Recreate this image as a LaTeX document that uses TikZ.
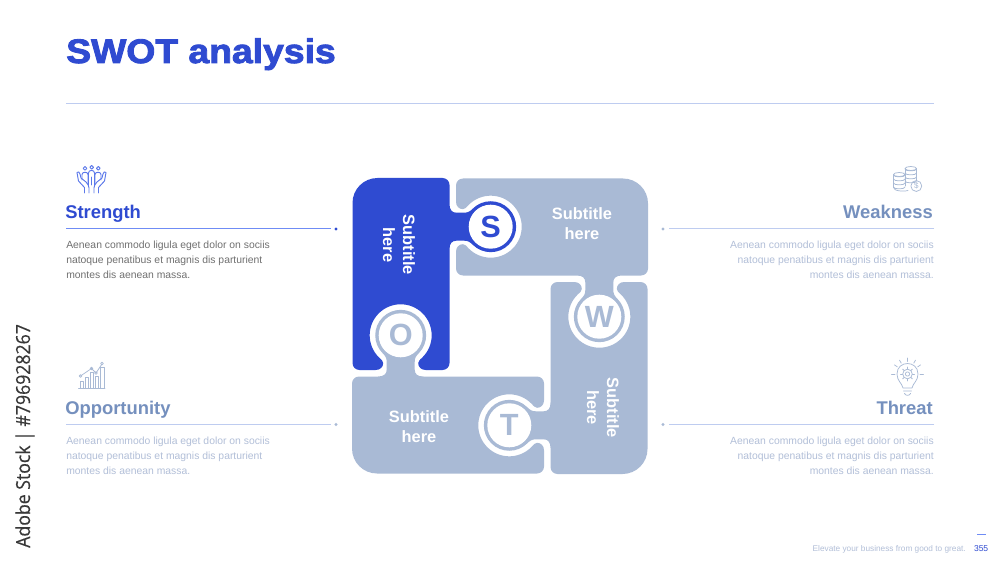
\documentclass[tikz,border=0pt]{standalone}
\usepackage{fontspec}
\setmainfont{Liberation Sans}
\newfontfamily\titlef[FakeBold=2.6,FakeStretch=1.097]{Liberation Sans Bold}
\newfontfamily\stockf[FakeBold=0.4,FakeStretch=0.914]{Open Sans}
\definecolor{swblue}{HTML}{2F4BD1}
\definecolor{swgray}{HTML}{A9BAD5}
\definecolor{swhead}{HTML}{7590BE}
\definecolor{swbody}{HTML}{B2BFD8}
\definecolor{swdark}{HTML}{707070}
\definecolor{swline}{HTML}{BECCF0}
\definecolor{swblueline}{HTML}{6F8CF5}
\newcommand{\piecepath}{
  (-122.5,148) -- (-57.5,148) arc[start angle=90,end angle=0,radius=5.25pt]
  -- (-50.5,122) .. controls (-50.5,116) and (-48,113.3) .. (-43.5,113.3)
  -- (-36,113.3) .. controls (-32,113.3) and (-30,114.6) .. (-27.3,117.3)
  arc[start angle=135,end angle=-135,radius=19.09pt]
  .. controls (-30,84) and (-32,85.3) .. (-36,85.3)
  -- (-43.5,85.3) .. controls (-48,85.3) and (-50.5,82.6) .. (-50.5,76.6)
  -- (-50.5,-37) arc[start angle=0,end angle=-90,radius=5.25pt]
  -- (-74.3,-44) .. controls (-78.8,-44) and (-81.8,-41) .. (-81.8,-37)
  .. controls (-81.8,-35) and (-80,-33.8) .. (-77.4,-31.2)
  arc[start angle=-45,end angle=225,radius=23.25pt]
  .. controls (-118.6,-33.8) and (-116.8,-35) .. (-116.8,-37)
  .. controls (-116.8,-41) and (-119.8,-44) .. (-124.3,-44)
  -- (-140.5,-44) arc[start angle=270,end angle=180,radius=5.25pt]
  -- (-147.5,123) arc[start angle=180,end angle=90,radius=18.75pt] -- cycle}
\tikzset{
  subt/.style={font=\bfseries\fontsize{12.3}{15}\selectfont,text=white,align=center,inner sep=0pt},
  letter/.style={font=\bfseries\fontsize{23}{23}\selectfont,inner sep=0pt},
  disc/.style={circle,fill=white,minimum size=33pt,inner sep=0pt},
  heads/.style={font=\bfseries\fontsize{13.8}{16}\selectfont,inner sep=0pt},
  bodyl/.style={font=\fontsize{7.78}{11.25}\selectfont,inner sep=0pt,align=left,anchor=north west},
  bodyr/.style={font=\fontsize{7.78}{11.25}\selectfont,inner sep=0pt,align=right,anchor=north east},
  dotn/.style={circle,inner sep=0pt,minimum size=2.6pt},
  ico/.style={line width=0.55pt,line cap=round,line join=round},
  rulel/.style={line width=0.6pt},
}
\begin{document}
\begin{tikzpicture}[x=0.75pt,y=-0.75pt]
\useasboundingbox (0,0) rectangle (1000,563);
\fill[white] (0,0) rectangle (1000,563);
% title
\node[anchor=base west,inner sep=0pt,text=swblue,font=\titlef\fontsize{25.5}{30}\selectfont] (title) at (66,63) {SWOT analysis};
\coordinate (tl) at (66,103.5); \coordinate (tr) at (934,103.5);
\draw[swline,rulel] (tl) -- (tr);
% pieces
\begin{scope}[shift={(500,326)},y=0.75pt]
  \fill[swblue] \piecepath;
  \begin{scope}[rotate=-90]\fill[swgray] \piecepath;\end{scope}
  \begin{scope}[rotate=-180]\fill[swgray] \piecepath;\end{scope}
  \begin{scope}[rotate=-270]\fill[swgray] \piecepath;\end{scope}
\end{scope}
\node[disc] (ds) at (490.7,226.7) {}; \node[letter,text=swblue] (ls) at (ds) {S};
\node[disc] (dw) at (599.3,316.7) {}; \node[letter,text=swgray] (lw) at (dw) {W};
\node[disc] (dt) at (509.3,425.3) {}; \node[letter,text=swgray] (lt) at (dt) {T};
\node[disc] (do) at (400.7,335.3) {}; \node[letter,text=swgray] (lo) at (do) {O};
\node[subt,rotate=-90] (st1) at (399,245) {Subtitle\\here};
\node[subt] (st2) at (582,224) {Subtitle\\here};
\node[subt,rotate=-90] (st3) at (603,407.7) {Subtitle\\here};
\node[subt] (st4) at (419,427) {Subtitle\\here};
% Strength
\node[heads,anchor=base west,text=swblue] (h1) at (65,218.5) {Strength};
\node[dotn,fill=swblue] (d1) at (336,229) {};
\coordinate (a1) at (66,228.5); \coordinate (b1) at (331,228.5);
\draw[swblueline,rulel] (a1) -- (b1);
\node[bodyl,text=swdark] (t1) at (66,240.5) {Aenean commodo ligula eget dolor on sociis\\natoque penatibus et magnis dis parturient\\montes dis aenean massa.};
% Opportunity
\node[heads,anchor=base west,text=swhead] (h2) at (65,414) {Opportunity};
\node[dotn,fill=swgray] (d2) at (336,424.5) {};
\coordinate (a2) at (66,424.5); \coordinate (b2) at (331,424.5);
\draw[swline,rulel] (a2) -- (b2);
\node[bodyl,text=swbody] (t2) at (66,437) {Aenean commodo ligula eget dolor on sociis\\natoque penatibus et magnis dis parturient\\montes dis aenean massa.};
% Weakness
\node[heads,anchor=base east,text=swhead] (h3) at (933,218.5) {Weakness};
\node[dotn,fill=swgray] (d3) at (663,229) {};
\coordinate (a3) at (934,228.5); \coordinate (b3) at (669,228.5);
\draw[swline,rulel] (a3) -- (b3);
\node[bodyr,text=swbody] (t3) at (934,240.5) {Aenean commodo ligula eget dolor on sociis\\natoque penatibus et magnis dis parturient\\montes dis aenean massa.};
% Threat
\node[heads,anchor=base east,text=swhead] (h4) at (933,414) {Threat};
\node[dotn,fill=swgray] (d4) at (663,424.5) {};
\coordinate (a4) at (934,424.5); \coordinate (b4) at (669,424.5);
\draw[swline,rulel] (a4) -- (b4);
\node[bodyr,text=swbody] (t4) at (934,437) {Aenean commodo ligula eget dolor on sociis\\natoque penatibus et magnis dis parturient\\montes dis aenean massa.};
% Footer
\node[anchor=base east,inner sep=0pt,text=swbody,font=\fontsize{6.2}{7}\selectfont] (foot) at (966,551.5) {Elevate your business from good to great.};
\node[anchor=base east,inner sep=0pt,text=swblue,font=\fontsize{6.4}{7}\selectfont] (pg) at (988.5,551.5) {355};
\coordinate (fa) at (977,534.5); \coordinate (fb) at (985.5,534.5);
\draw[swblueline,line width=0.6pt] (fa) -- (fb);
% vertical stock credit
\node[rotate=90,anchor=base west,inner sep=0pt,text=black!78,font=\stockf\fontsize{14.5}{16}\selectfont] (stock) at (30,548) {Adobe Stock | \#796928267};
% icon: hands and people
\begin{scope}[ico,draw=swblueline!70!swblue,line width=0.7pt]
  \draw (85,168.3) circle[radius=1.4pt] (91.7,167.3) circle[radius=1.4pt] (98.3,168.3) circle[radius=1.4pt];
  \draw (82,180) -- (82,174.5) .. controls (82,171.5) and (88,171.5) .. (88,174.5) -- (88,184);
  \draw (95,184) -- (95,174.5) .. controls (95,171.5) and (101,171.5) .. (101,174.5) -- (101,180);
  \draw (88.5,185) -- (88.5,173) .. controls (88.5,169.5) and (94.5,169.5) .. (94.5,173) -- (94.5,185);
  \draw (91.5,177) -- (91.5,185);
  \draw (84.5,193) -- (84.5,187.5) -- (78.5,181) -- (77,172.5) .. controls (78,171) and (79.5,172) .. (80,174) -- (81,178) -- (86,182) .. controls (88,184) and (89,186) .. (89,188) -- (89,193);
  \draw (98.5,193) -- (98.5,187.5) -- (104.5,181) -- (106,172.5) .. controls (105,171) and (103.5,172) .. (103,174) -- (102,178) -- (97,182) .. controls (95,184) and (94,186) .. (94,188) -- (94,193);
\end{scope}
% icon: chart
\begin{scope}[ico,draw=swgray]
  \draw (78.5,388.5) -- (105,388.5);
  \draw (80,388.5) -- (80,381) -- (83,381) -- (83,388.5);
  \draw (85,388.5) -- (85,377) -- (88,377) -- (88,388.5);
  \draw (90,388.5) -- (90,372) -- (93,372) -- (93,388.5);
  \draw (95,388.5) -- (95,376) -- (98,376) -- (98,388.5);
  \draw (100.5,388.5) -- (100.5,367) -- (104,367) -- (104,388.5);
  \draw (80.5,376) -- (91.5,368.5) -- (96,373) -- (102,364);
  \draw (80.5,376) circle[radius=1pt] (91.5,368.5) circle[radius=1pt] (96,373) circle[radius=1pt] (102,363.5) circle[radius=1pt];
\end{scope}
% icon: coins
\begin{scope}[ico,draw=swgray]
  \foreach \yy in {175,179,183,187}{\draw (893.5,\yy) .. controls (893.5,\yy+2.5) and (905,\yy+2.5) .. (905,\yy);}
  \draw (899.2,174.5) ellipse[x radius=4.3pt,y radius=1.5pt];
  \draw (893.5,174.5) -- (893.5,187.5) .. controls (893.5,191.5) and (905,191.5) .. (908,190.5);
  \foreach \yy in {169,173,177,181}{\draw (905,\yy) .. controls (905,\yy+2.5) and (916.5,\yy+2.5) .. (916.5,\yy);}
  \draw (910.8,168.5) ellipse[x radius=4.3pt,y radius=1.5pt];
  \draw (905,168.5) -- (905,186);
  \draw (916.5,168.5) -- (916.5,180.5);
  \draw (916.3,186) circle[radius=4.1pt];
  \node[inner sep=0pt,text=swgray,font=\fontsize{6}{6}\selectfont] (dollar) at (916.3,186) {\$};
\end{scope}
% icon: bulb
\begin{scope}[ico,draw=swgray]
  \draw (903,388) .. controls (902,383) and (897,381) .. (897,374) .. controls (897,360) and (918,360) .. (918,374) .. controls (918,381) and (913,383) .. (912,388) -- cycle;
  \draw (903.5,391) -- (911.5,391) (904.5,393.5) .. controls (906,396) and (909,396) .. (910.5,393.5);
  \draw (907.5,374) circle[radius=1.6pt];
  \draw (907.5,374) circle[radius=3.6pt];
  \foreach \aa in {0,45,...,315}{\draw (907.5,374) ++(\aa:5) -- ++(\aa:2);}
  \foreach \aa in {0,-35,-60,-90,-120,-145,180}{\draw (907.5,374) ++(\aa:12.5) -- ++(\aa:3.5);}
\end{scope}
\end{tikzpicture}
\end{document}
